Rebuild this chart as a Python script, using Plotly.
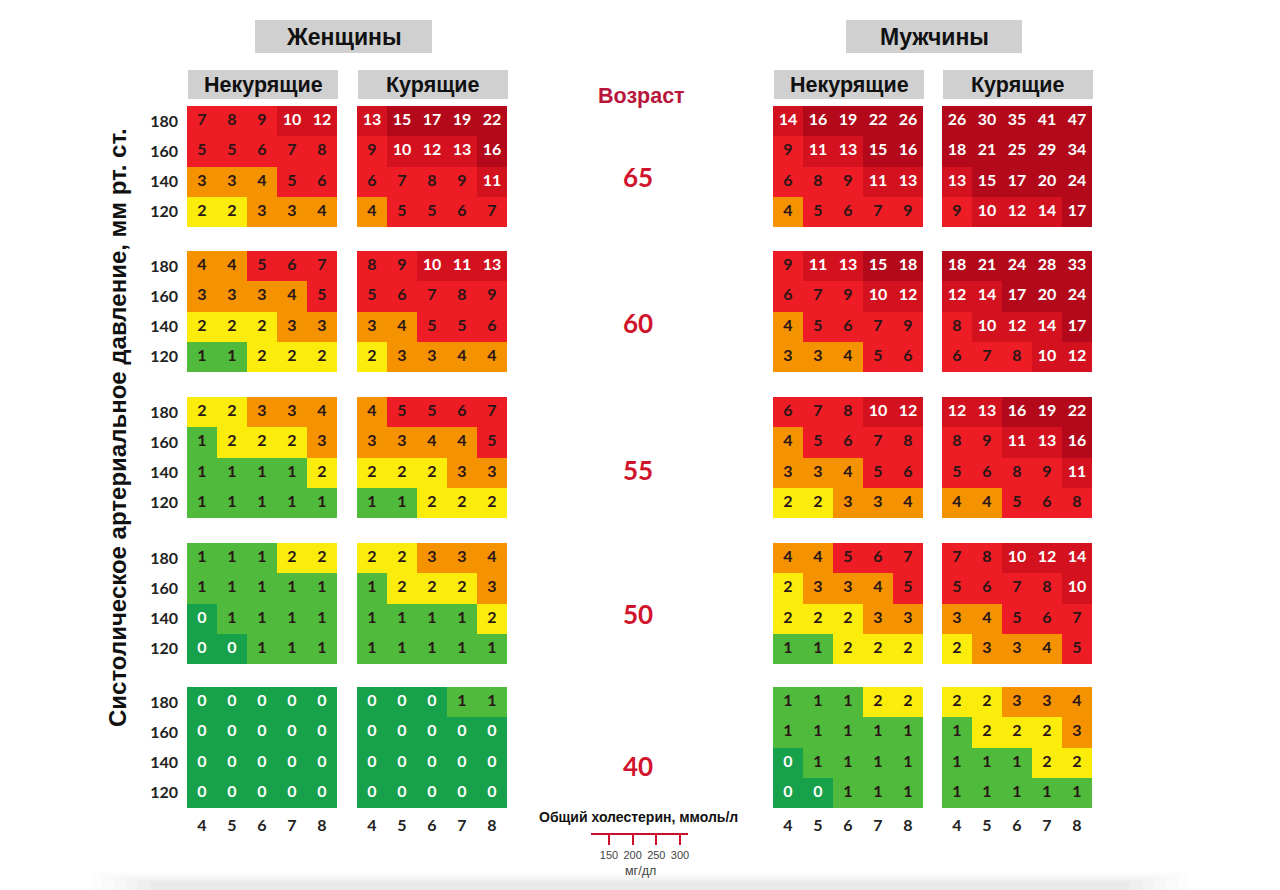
import plotly.graph_objects as go

# ---------------- data ----------------
ages = [65, 60, 55, 50, 40]
sbp_levels = [180, 160, 140, 120]          # rows, top to bottom
chol_mmol = [4, 5, 6, 7, 8]                # columns
mgdl_ticks = [150, 200, 250, 300]

# each: list over ages (65,60,55,50,40) of rows (180,160,140,120) x cols (4..8)
women_nonsmoking = [
    [[7, 8, 9, 10, 12], [5, 5, 6, 7, 8], [3, 3, 4, 5, 6], [2, 2, 3, 3, 4]],
    [[4, 4, 5, 6, 7], [3, 3, 3, 4, 5], [2, 2, 2, 3, 3], [1, 1, 2, 2, 2]],
    [[2, 2, 3, 3, 4], [1, 2, 2, 2, 3], [1, 1, 1, 1, 2], [1, 1, 1, 1, 1]],
    [[1, 1, 1, 2, 2], [1, 1, 1, 1, 1], [0, 1, 1, 1, 1], [0, 0, 1, 1, 1]],
    [[0, 0, 0, 0, 0], [0, 0, 0, 0, 0], [0, 0, 0, 0, 0], [0, 0, 0, 0, 0]],
]
women_smoking = [
    [[13, 15, 17, 19, 22], [9, 10, 12, 13, 16], [6, 7, 8, 9, 11], [4, 5, 5, 6, 7]],
    [[8, 9, 10, 11, 13], [5, 6, 7, 8, 9], [3, 4, 5, 5, 6], [2, 3, 3, 4, 4]],
    [[4, 5, 5, 6, 7], [3, 3, 4, 4, 5], [2, 2, 2, 3, 3], [1, 1, 2, 2, 2]],
    [[2, 2, 3, 3, 4], [1, 2, 2, 2, 3], [1, 1, 1, 1, 2], [1, 1, 1, 1, 1]],
    [[0, 0, 0, 1, 1], [0, 0, 0, 0, 0], [0, 0, 0, 0, 0], [0, 0, 0, 0, 0]],
]
men_nonsmoking = [
    [[14, 16, 19, 22, 26], [9, 11, 13, 15, 16], [6, 8, 9, 11, 13], [4, 5, 6, 7, 9]],
    [[9, 11, 13, 15, 18], [6, 7, 9, 10, 12], [4, 5, 6, 7, 9], [3, 3, 4, 5, 6]],
    [[6, 7, 8, 10, 12], [4, 5, 6, 7, 8], [3, 3, 4, 5, 6], [2, 2, 3, 3, 4]],
    [[4, 4, 5, 6, 7], [2, 3, 3, 4, 5], [2, 2, 2, 3, 3], [1, 1, 2, 2, 2]],
    [[1, 1, 1, 2, 2], [1, 1, 1, 1, 1], [0, 1, 1, 1, 1], [0, 0, 1, 1, 1]],
]
men_smoking = [
    [[26, 30, 35, 41, 47], [18, 21, 25, 29, 34], [13, 15, 17, 20, 24], [9, 10, 12, 14, 17]],
    [[18, 21, 24, 28, 33], [12, 14, 17, 20, 24], [8, 10, 12, 14, 17], [6, 7, 8, 10, 12]],
    [[12, 13, 16, 19, 22], [8, 9, 11, 13, 16], [5, 6, 8, 9, 11], [4, 4, 5, 6, 8]],
    [[7, 8, 10, 12, 14], [5, 6, 7, 8, 10], [3, 4, 5, 6, 7], [2, 3, 3, 4, 5]],
    [[2, 2, 3, 3, 4], [1, 2, 2, 2, 3], [1, 1, 1, 2, 2], [1, 1, 1, 1, 1]],
]
groups = [women_nonsmoking, women_smoking, men_nonsmoking, men_smoking]

sex_labels = ["Женщины", "Мужчины"]
smoke_labels = ["Некурящие", "Курящие", "Некурящие", "Курящие"]

# ---------------- style ----------------
W, H = 1280, 890
bin_edges = [0, 1, 2, 3, 5, 10, 15]
bin_colors = ["#17a14a", "#4fba3c", "#fbec0c", "#f49200", "#ee1c25", "#d3111f", "#b4091a"]
col_px = [(187, 337), (357, 507), (773, 923), (942, 1092)]
row_top_px = [106, 251, 397, 543, 687]
panel_h = 121
age_label_y = [177, 323, 470, 614, 766]


def px_x(x):
    return x / W


def px_y(y):
    return 1 - y / H


def category(v):
    return sum(1 for e in bin_edges if v >= e) - 1


n = len(bin_colors)
colorscale = []
for i, c in enumerate(bin_colors):
    colorscale.append([i / n, c])
    colorscale.append([(i + 1) / n, c])

fig = go.Figure()
layout_axes = {}
k = 0
rows_asc = list(reversed(sbp_levels))
for ai, age in enumerate(ages):
    for gi, grp in enumerate(groups):
        k += 1
        xa = "x" if k == 1 else f"x{k}"
        ya = "y" if k == 1 else f"y{k}"
        vals = grp[ai]
        vals_asc = list(reversed(vals))
        z = [[category(v) for v in row] for row in vals_asc]
        fig.add_trace(go.Heatmap(
            x=chol_mmol, y=rows_asc, z=z, zmin=-0.5, zmax=n - 0.5,
            colorscale=colorscale, showscale=False, hoverinfo="skip",
            xaxis=xa, yaxis=ya))
        tx, ty, tt, tc = [], [], [], []
        for ri, row in enumerate(vals):
            for ci, v in enumerate(row):
                tx.append(chol_mmol[ci])
                ty.append(sbp_levels[ri])
                tt.append(str(v))
                tc.append("#ffffff" if (v == 0 or v >= 10) else "#2a1616")
        fig.add_trace(go.Scatter(
            x=tx, y=ty, text=tt, mode="text",
            textfont=dict(family="Lato", size=16, color=tc, weight=700),
            hoverinfo="skip", showlegend=False, xaxis=xa, yaxis=ya))
        x0, x1 = col_px[gi]
        top = row_top_px[ai]
        bottom_row = ai == len(ages) - 1
        layout_axes["xaxis" if k == 1 else f"xaxis{k}"] = dict(
            domain=[px_x(x0), px_x(x1)], anchor=ya, range=[3.5, 8.5],
            showgrid=False, zeroline=False, showline=False, fixedrange=True,
            tickvals=chol_mmol, ticks="", showticklabels=bottom_row,
            ticklabelstandoff=6,
            tickfont=dict(family="Lato", size=16, color="#222222", weight=700))
        layout_axes["yaxis" if k == 1 else f"yaxis{k}"] = dict(
            domain=[px_y(top + panel_h), px_y(top)], anchor=xa, range=[110, 190],
            showgrid=False, zeroline=False, showline=False, fixedrange=True,
            tickvals=sbp_levels, ticks="", showticklabels=(gi == 0),
            ticklabelstandoff=8,
            tickfont=dict(family="Lato", size=16, color="#222222", weight=700))

# small mg/dl scale axis
k += 1
sx, sy = f"x{k}", f"y{k}"
fig.add_trace(go.Scatter(x=[mgdl_ticks[0]], y=[0], mode="markers",
                         marker=dict(opacity=0), hoverinfo="skip",
                         showlegend=False, xaxis=sx, yaxis=sy))
layout_axes[f"xaxis{k}"] = dict(
    domain=[px_x(591), px_x(688)], anchor=sy, range=[112, 317],
    showgrid=False, zeroline=False, showline=True, linecolor="#c8102e", linewidth=2,
    ticks="outside", ticklen=10, tickwidth=2, tickcolor="#c8102e",
    tickvals=mgdl_ticks, fixedrange=True, ticklabelstandoff=1,
    tickfont=dict(family="Liberation Sans", size=11, color="#444444"))
layout_axes[f"yaxis{k}"] = dict(
    domain=[px_y(833), px_y(825)], anchor=sx, visible=False, range=[-1, 1], fixedrange=True)

shapes = []
annotations = []


def label(text, x, y, size, color, family="Liberation Sans", weight=700, angle=0):
    annotations.append(dict(text=text, xref="paper", yref="paper",
                            x=px_x(x), y=px_y(y), xanchor="center", yanchor="middle",
                            textangle=angle, showarrow=False,
                            font=dict(family=family, size=size, color=color, weight=weight)))


# sex headers
for lab, (x0, x1) in zip(sex_labels, [(255, 432), (846, 1022)]):
    shapes.append(dict(type="rect", xref="paper", yref="paper",
                       x0=px_x(x0), x1=px_x(x1), y0=px_y(53), y1=px_y(20),
                       fillcolor="#d0d0d0", line=dict(width=0), layer="below"))
    label(lab, (x0 + x1) / 2, 36.5, 23, "#111111")
# smoking headers
for lab, (x0, x1) in zip(smoke_labels, col_px):
    shapes.append(dict(type="rect", xref="paper", yref="paper",
                       x0=px_x(x0 + 1), x1=px_x(x1 + 1), y0=px_y(99), y1=px_y(70),
                       fillcolor="#d0d0d0", line=dict(width=0), layer="below"))
    label(lab, (x0 + x1) / 2 + 1, 84.5, 21.5, "#111111")

label("Возраст", 641, 96, 21.5, "#b8163c")
for age, yy in zip(ages, age_label_y):
    label(str(age), 638, yy, 26, "#d0142c", family="Lato")

label("Систолическое артериальное давление, мм рт. ст.", 117, 428, 24, "#111111", angle=-90)
label("Общий холестерин, ммоль/л", 638, 817, 14, "#111111")
label("мг/дл", 640, 871, 12.5, "#444444", weight=400)

# soft page shadow at the bottom
for i, op in enumerate([0.008, 0.01, 0.012, 0.014, 0.016, 0.018]):
    shapes.append(dict(type="rect", xref="paper", yref="paper",
                       x0=px_x(90 + 12 * i), x1=px_x(1190 - 12 * i),
                       y0=0, y1=px_y(872 + 2 * i), fillcolor="#000000",
                       opacity=op, line=dict(width=0), layer="below"))

fig.update_layout(
    width=W, height=H, margin=dict(l=0, r=0, t=0, b=0),
    paper_bgcolor="#ffffff", plot_bgcolor="#ffffff",
    showlegend=False, shapes=shapes, annotations=annotations,
    **layout_axes)

fig.write_html("out.html")
